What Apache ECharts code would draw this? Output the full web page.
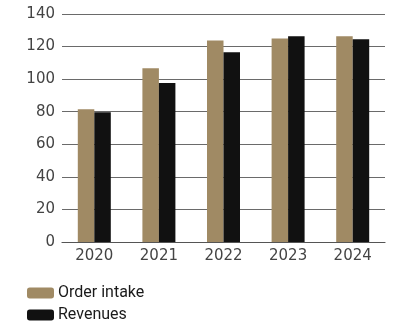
<!DOCTYPE html>
<html><head><meta charset="utf-8">
<script src="https://cdn.jsdelivr.net/npm/echarts@6/dist/echarts.min.js"></script>
<style>html,body{margin:0;padding:0;background:#fff}#c{width:417px;height:328px}</style>
</head><body><div id="c"></div>
<script>
const categories = ['2020','2021','2022','2023','2024'];
const orderIntake = [81.5, 106.7, 123.8, 125, 126.3];
const revenues = [79.6, 97.6, 116.5, 126.3, 124.5];
const yTicks = [0, 20, 40, 60, 80, 100, 120, 140];

const chart = echarts.init(document.getElementById('c'), null, {renderer:'canvas'});
chart.setOption({
  animation: false,
  backgroundColor: '#fff',
  grid: {left: 62, right: 32, top: 14, bottom: 86, containLabel: false},
  legend: {
    orient: 'vertical', left: 27, top: 285, padding: 0,
    itemWidth: 27, itemHeight: 11, itemGap: 6,
    icon: 'roundRect',
    textStyle: {fontFamily: 'Roboto', fontSize: 16, lineHeight: 16, color: '#1a1a1a', padding: [0,0,0,-1]},
    data: ['Order intake', 'Revenues']
  },
  xAxis: {
    type: 'category', data: categories,
    axisLine: {lineStyle: {color: '#555', width: 1.2}},
    axisTick: {show: false},
    axisLabel: {fontFamily: 'DejaVu Sans', fontSize: 15, color: '#444', margin: 7}
  },
  yAxis: {
    type: 'value', min: yTicks[0], max: yTicks[yTicks.length-1], interval: 20,
    axisLine: {show: false}, axisTick: {show: false},
    axisLabel: {fontFamily: 'DejaVu Sans', fontSize: 15, color: '#444', margin: 7},
    splitLine: {lineStyle: {color: '#6a6a6a', width: 1}}
  },
  series: [
    {name: 'Order intake', type: 'bar', data: orderIntake, barWidth: 16.5, barGap: '0%', itemStyle: {color: '#a08a64'}},
    {name: 'Revenues', type: 'bar', data: revenues, barWidth: 16.5, barGap: '0%', itemStyle: {color: '#111111'}}
  ]
});
</script></body></html>
